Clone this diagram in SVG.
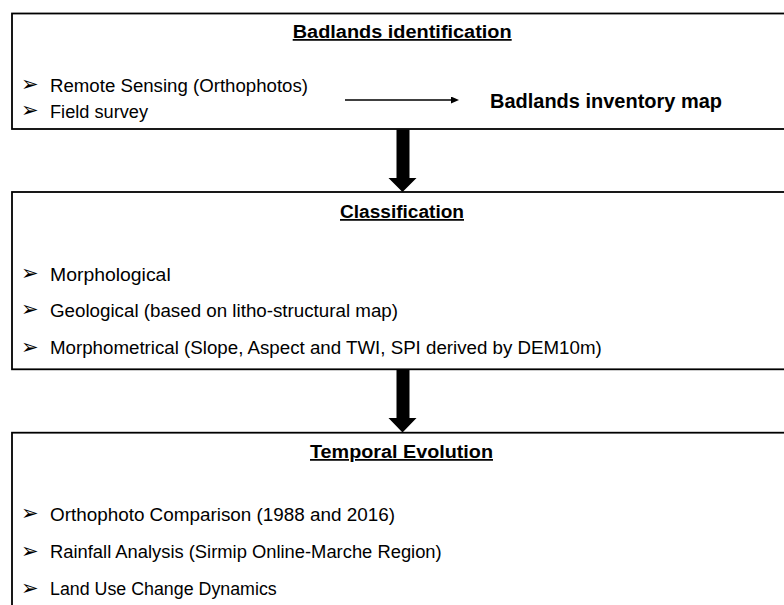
<svg xmlns="http://www.w3.org/2000/svg" width="784" height="605" viewBox="0 0 784 605">
<defs>
<style>
.box{fill:#fff;stroke:#000;stroke-width:1.8}
.t{font-family:"Liberation Sans",Arial,sans-serif;font-size:17.5px;fill:#000}
.h{font-family:"Liberation Sans",Arial,sans-serif;font-size:17.5px;font-weight:bold;fill:#000;text-decoration:underline}
.b{font-family:"DejaVu Sans",sans-serif;font-size:21px;fill:#000}
.big{fill:#000}
</style>
<marker id="ah" markerWidth="8" markerHeight="7" refX="0" refY="3.5" orient="auto" markerUnits="userSpaceOnUse">
<path d="M0,0 L8,3.5 L0,7 Z" fill="#000"/>
</marker>
</defs>
<rect width="784" height="605" fill="#fff"/>
<g id="node-identification">
<rect class="box" x="12" y="13.5" width="800" height="115.5"/>
<text class="h" x="292.7" y="38" textLength="219" lengthAdjust="spacingAndGlyphs">Badlands identification</text>
<text class="b" x="21" y="91">➢</text>
<text class="t" x="50" y="91.7" textLength="258" lengthAdjust="spacingAndGlyphs">Remote Sensing (Orthophotos)</text>
<text class="b" x="21" y="117">➢</text>
<text class="t" x="50" y="117.5" textLength="98" lengthAdjust="spacingAndGlyphs">Field survey</text>
</g>
<g id="node-inventory">
<text x="490" y="107.5" textLength="232" lengthAdjust="spacingAndGlyphs" style="font-family:'Liberation Sans',Arial,sans-serif;font-size:19.5px;font-weight:bold">Badlands inventory map</text>
</g>
<g id="node-classification">
<rect class="box" x="12" y="192" width="800" height="177.3"/>
<text class="h" x="340" y="218" textLength="124" lengthAdjust="spacingAndGlyphs">Classification</text>
<text class="b" x="21" y="280">➢</text>
<text class="t" x="50" y="280.5" textLength="120.7" lengthAdjust="spacingAndGlyphs">Morphological</text>
<text class="b" x="21" y="316">➢</text>
<text class="t" x="50" y="316.5" textLength="348" lengthAdjust="spacingAndGlyphs">Geological (based on litho-structural map)</text>
<text class="b" x="21" y="353.5">➢</text>
<text class="t" x="50" y="354" textLength="551.7" lengthAdjust="spacingAndGlyphs">Morphometrical (Slope, Aspect and TWI, SPI derived by DEM10m)</text>
</g>
<g id="node-temporal">
<rect class="box" x="12" y="432.7" width="800" height="200"/>
<text class="h" x="310" y="458" textLength="183" lengthAdjust="spacingAndGlyphs">Temporal Evolution</text>
<text class="b" x="21" y="520">➢</text>
<text class="t" x="50" y="520.5" textLength="345" lengthAdjust="spacingAndGlyphs">Orthophoto Comparison (1988 and 2016)</text>
<text class="b" x="21" y="557.5">➢</text>
<text class="t" x="50" y="558" textLength="391.7" lengthAdjust="spacingAndGlyphs">Rainfall Analysis (Sirmip Online-Marche Region)</text>
<text class="b" x="21" y="594.5">➢</text>
<text class="t" x="50" y="595" textLength="226.7" lengthAdjust="spacingAndGlyphs">Land Use Change Dynamics</text>
</g>
<g id="connectors">
<line x1="345" y1="100" x2="451" y2="100" stroke="#000" stroke-width="1.5" marker-end="url(#ah)"/>
<polygon class="big" points="396.5,129.5 409.5,129.5 409.5,178 416.5,178 402.5,192 388.5,178 396.5,178"/>
<polygon class="big" points="396.5,369.5 409.5,369.5 409.5,418 416.5,418 402.5,432.5 388.5,418 396.5,418"/>
</g>
</svg>
